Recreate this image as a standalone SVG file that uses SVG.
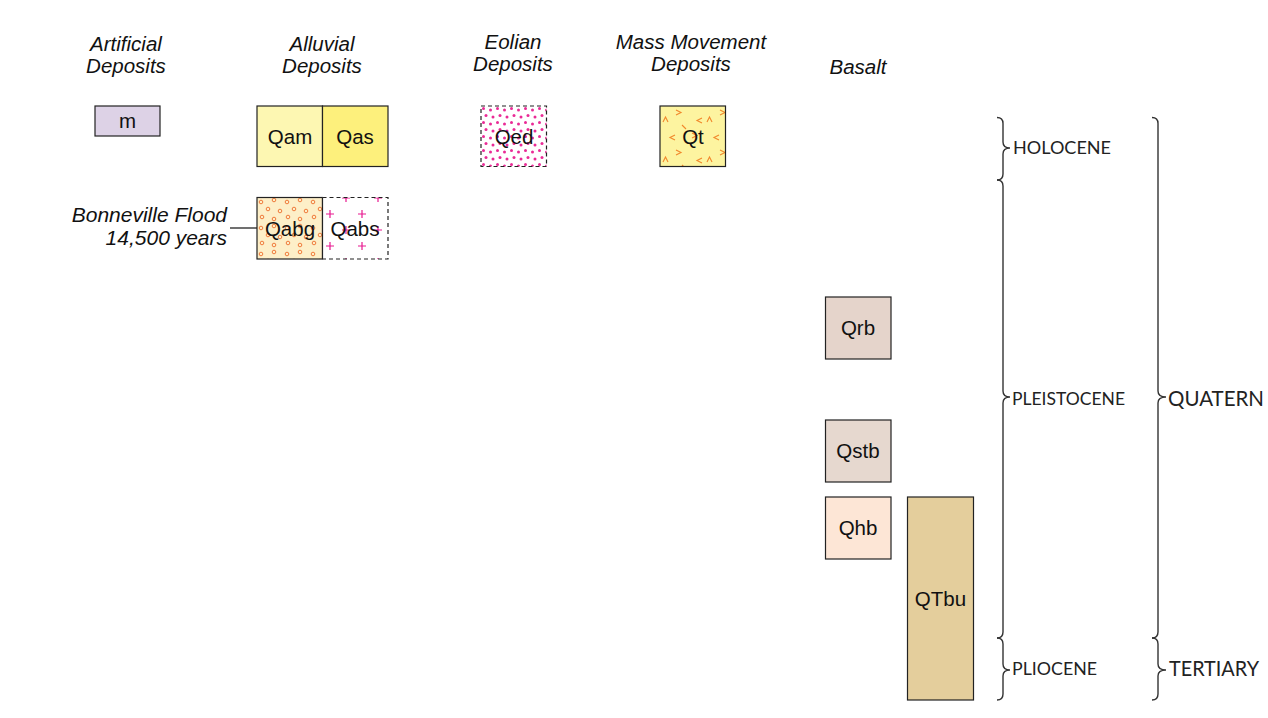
<svg xmlns="http://www.w3.org/2000/svg" width="1268" height="718" viewBox="0 0 1268 718">
<style>
.hdr{font-family:"Liberation Sans",Arial,sans-serif;font-style:italic;font-size:20.5px;fill:#111;text-anchor:middle}
.lbl{font-family:"Liberation Sans",Arial,sans-serif;font-size:20.5px;fill:#111;text-anchor:middle}
.note{font-family:"Liberation Sans",Arial,sans-serif;font-style:italic;font-size:21px;fill:#111;text-anchor:end}
.box{stroke:#222;stroke-width:1.2}
.dash{fill:none;stroke:#222;stroke-width:1.2;stroke-dasharray:4 3}
.epoch{font-family:Lato,"Open Sans",sans-serif;font-size:17px;fill:#222}
.period{font-family:Lato,"Open Sans",sans-serif;font-size:21px;fill:#222}
.brace{fill:none;stroke:#333;stroke-width:1.4}
</style>
<defs>
<pattern id="pDots" patternUnits="userSpaceOnUse" width="14" height="14" x="481" y="106">
<rect width="14" height="14" fill="#fff"/>
<g fill="#ea2a96"><circle cx="2.5" cy="2.5" r="1.5"/><circle cx="9.5" cy="4" r="1.5"/><circle cx="5" cy="9.5" r="1.5"/><circle cx="12" cy="11" r="1.5"/></g>
</pattern>
<pattern id="pChev" patternUnits="userSpaceOnUse" width="44" height="40" x="660" y="106">
<rect width="44" height="40" fill="#fdf4a0"/>
<g fill="none" stroke="#f2872a" stroke-width="1.1">
<path d="M16 4 L21 6.5 L16 9"/><path d="M8 16 L5.5 11 L3 16"/><path d="M42 12 L37 14.5 L42 17"/><path d="M22 19 L26 23"/><path d="M15 34 L10 31.5 L15 29"/><path d="M32 27 L37 29.5 L32 32"/>
</g>
</pattern>
<pattern id="pCirc" patternUnits="userSpaceOnUse" width="26" height="26" x="257" y="197">
<rect width="26" height="26" fill="#fdefc8"/>
<g fill="none" stroke="#f07a3a" stroke-width="1"><circle cx="4" cy="5" r="1.8"/><circle cx="17" cy="3" r="1.8"/><circle cx="11" cy="12" r="1.8"/><circle cx="23" cy="14" r="1.8"/><circle cx="5" cy="20" r="1.8"/><circle cx="17" cy="22" r="1.8"/></g>
</pattern>
<pattern id="pPlus" patternUnits="userSpaceOnUse" width="32" height="32" x="330" y="214">
<rect width="32" height="32" fill="#fff"/>
<g stroke="#e8188f" stroke-width="1.2"><path d="M-4 0 H4 M0 -4 V4"/><path d="M28 0 H36 M32 -4 V4"/><path d="M-4 32 H4 M0 28 V36"/><path d="M28 32 H36 M32 28 V36"/><path d="M12 16 H20 M16 12 V20"/></g>
</pattern>
</defs>
<rect width="1268" height="718" fill="#fff"/>

<g id="headers">
<text class="hdr" x="126" y="51">Artificial</text><text class="hdr" x="126" y="73">Deposits</text>
<text class="hdr" x="322" y="51">Alluvial</text><text class="hdr" x="322" y="73">Deposits</text>
<text class="hdr" x="513" y="49">Eolian</text><text class="hdr" x="513" y="71">Deposits</text>
<text class="hdr" x="691" y="49">Mass Movement</text><text class="hdr" x="691" y="71">Deposits</text>
<text class="hdr" x="858" y="74">Basalt</text>
</g>

<g id="node-m"><rect class="box" x="95" y="106" width="65" height="30" fill="#ddd2e6"/><text class="lbl" x="127.5" y="128">m</text></g>
<g id="node-Qam"><rect class="box" x="257" y="106" width="65.5" height="60.5" fill="#fdf7b2"/><text class="lbl" x="290" y="143.5">Qam</text></g>
<g id="node-Qas"><rect class="box" x="322.5" y="106" width="65.5" height="60.5" fill="#fdf07c"/><text class="lbl" x="355" y="143.5">Qas</text></g>
<g id="node-Qed"><rect x="481" y="106" width="65.5" height="60.5" fill="url(#pDots)"/><rect class="dash" x="481" y="106" width="65.5" height="60.5"/><text class="lbl" x="514" y="143.5">Qed</text></g>
<g id="node-Qt"><rect class="box" x="660" y="106" width="65.5" height="60.5" fill="url(#pChev)"/><text class="lbl" x="693" y="143.5">Qt</text></g>
<g id="node-Qabg"><rect class="box" x="257" y="197.5" width="65.5" height="61.5" fill="url(#pCirc)"/><text class="lbl" x="290" y="235.5">Qabg</text></g>
<g id="node-Qabs"><rect x="322.5" y="197.5" width="65.5" height="61.5" fill="url(#pPlus)"/><path class="dash" d="M322.5 197.5 H388 V259 H322.5"/><line x1="322.5" y1="197.5" x2="322.5" y2="259" stroke="#222" stroke-width="1.2"/><text class="lbl" x="355" y="235.5">Qabs</text></g>
<g id="note-bonneville"><text class="note" x="227" y="222">Bonneville Flood</text><text class="note" x="227" y="245">14,500 years</text></g>
<g id="node-Qrb"><rect class="box" x="825.5" y="297" width="65.5" height="62" fill="#e5d4cb"/><text class="lbl" x="858" y="335">Qrb</text></g>
<g id="node-Qstb"><rect class="box" x="825.5" y="420" width="65.5" height="62" fill="#e6d8cf"/><text class="lbl" x="858" y="458">Qstb</text></g>
<g id="node-Qhb"><rect class="box" x="825.5" y="497" width="65.5" height="62" fill="#fde6d6"/><text class="lbl" x="858" y="535">Qhb</text></g>
<g id="node-QTbu"><rect class="box" x="907.5" y="497" width="66" height="203" fill="#e4ce9c"/><text class="lbl" x="940.5" y="606">QTbu</text></g>

<g id="connectors">
<line x1="230" y1="228" x2="257" y2="228" stroke="#222" stroke-width="1.3"/>
<path class="brace" d="M997 117.5 Q1003 117.5 1003 123.5 L1003 142 Q1003 148 1010 148 Q1003 148 1003 154 L1003 174 Q1003 180 997 180"/>
<path class="brace" d="M997 180 Q1003 180 1003 186 L1003 391 Q1003 397 1010 397 Q1003 397 1003 403 L1003 632 Q1003 638 997 638"/>
<path class="brace" d="M997 638 Q1003 638 1003 644 L1003 664 Q1003 670 1010 670 Q1003 670 1003 676 L1003 694 Q1003 700 997 700"/>
<path class="brace" d="M1152 117.5 Q1158 117.5 1158 123.5 L1158 391 Q1158 397 1166 397 Q1158 397 1158 403 L1158 632 Q1158 638 1152 638"/>
<path class="brace" d="M1152 638 Q1158 638 1158 644 L1158 664 Q1158 670 1166 670 Q1158 670 1158 676 L1158 694 Q1158 700 1152 700"/>
</g>

<g id="timescale">
<text class="epoch" x="1013" y="154" textLength="98" lengthAdjust="spacingAndGlyphs">HOLOCENE</text>
<text class="epoch" x="1012" y="405" textLength="113" lengthAdjust="spacingAndGlyphs">PLEISTOCENE</text>
<text class="epoch" x="1012" y="675" textLength="85" lengthAdjust="spacingAndGlyphs">PLIOCENE</text>
<text class="period" x="1168" y="406" textLength="96" lengthAdjust="spacingAndGlyphs">QUATERN</text>
<text class="period" x="1169" y="676" textLength="90" lengthAdjust="spacingAndGlyphs">TERTIARY</text>
</g>
</svg>
